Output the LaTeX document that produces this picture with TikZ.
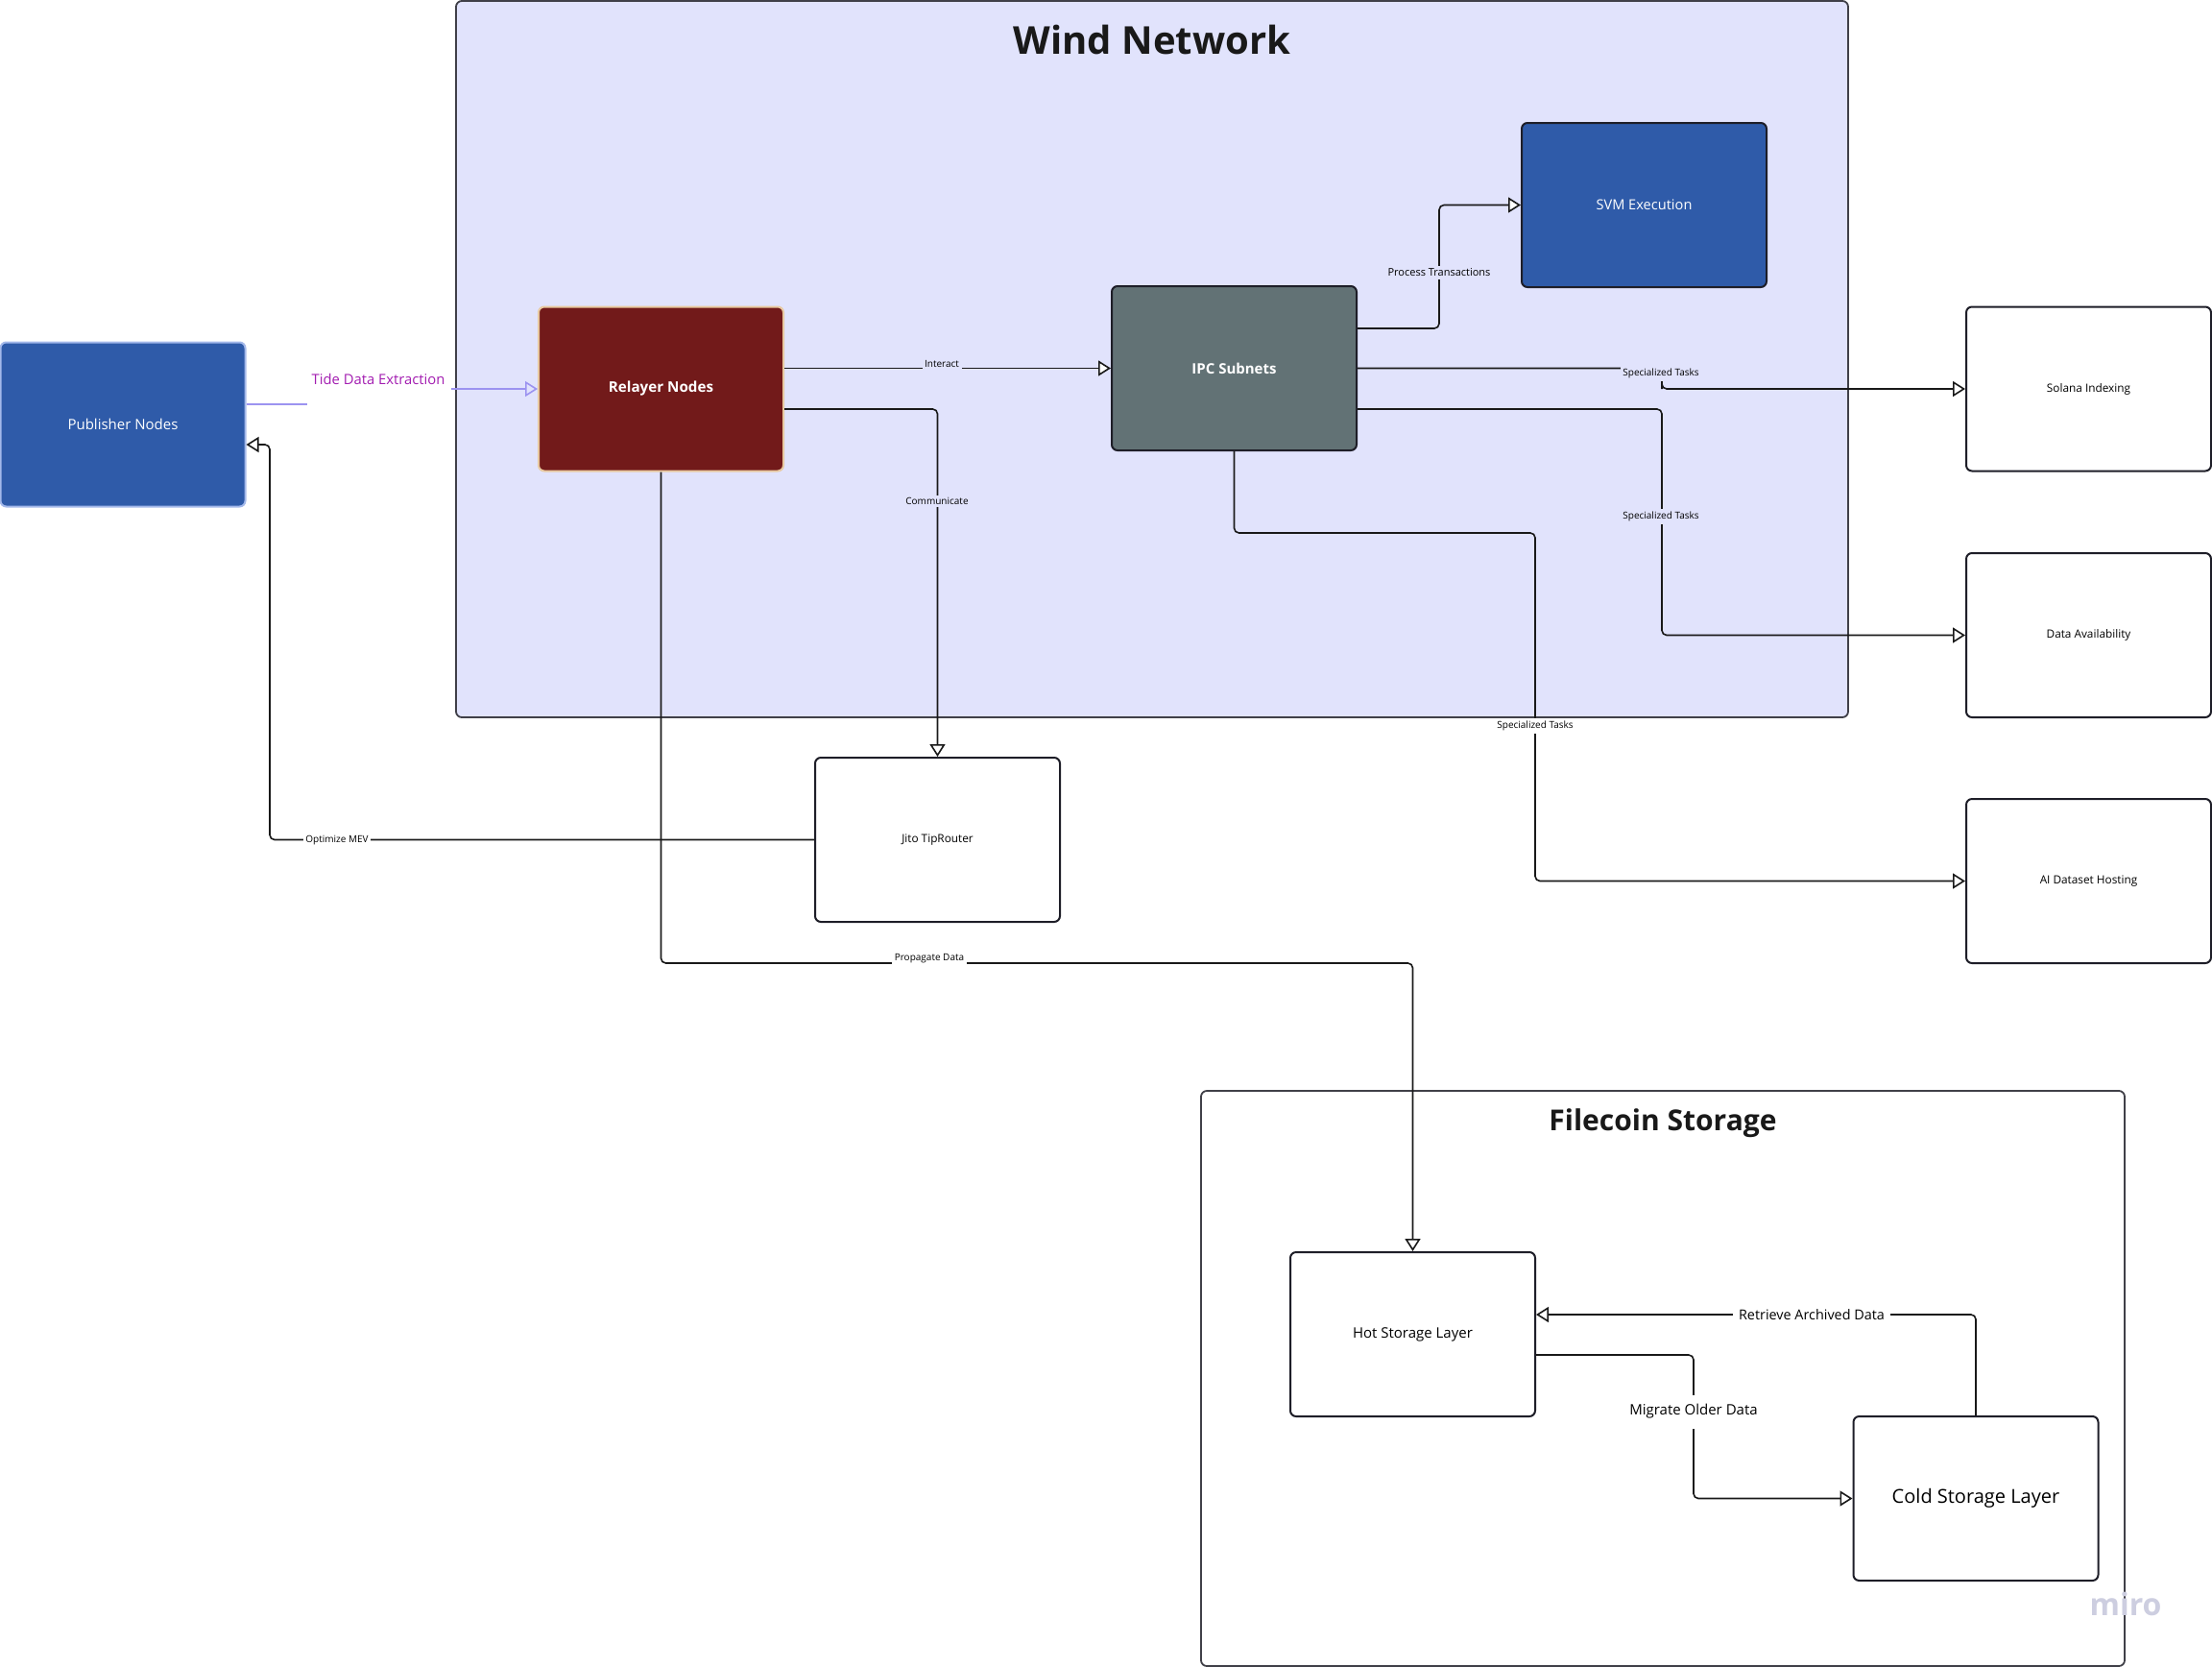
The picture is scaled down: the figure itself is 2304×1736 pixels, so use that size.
\documentclass[tikz,border=0pt]{standalone}
\usepackage{fontspec}
\setmainfont{Open Sans}
\usetikzlibrary{arrows.meta}
\definecolor{wnbg}{HTML}{E1E3FC}
\definecolor{pubblue}{HTML}{2F5BA9}
\definecolor{pubedge}{HTML}{A3B8EA}
\definecolor{relred}{HTML}{721A1A}
\definecolor{reledge}{HTML}{E8C9A0}
\definecolor{ipcgray}{HTML}{627275}
\definecolor{edgedark}{HTML}{1E1E28}
\definecolor{tideline}{HTML}{9C93F0}
\definecolor{tidetext}{HTML}{A21CB0}
\definecolor{mirogray}{HTML}{CDCEE0}
\newcommand\fsz[1]{\fontsize{#1}{#1}\selectfont}
\begin{document}
\begin{tikzpicture}[x=0.5pt,y=-0.5pt,
  card/.style={draw=edgedark, line width=1pt, rounded corners=3pt,
    minimum width=127.5pt, minimum height=85.5pt, inner sep=0pt, align=center},
  wcard/.style={card, fill=white, font=\fsz{5.9pt}},
  frame/.style={draw=edgedark!85, line width=0.9pt, rounded corners=3pt, inner sep=0pt},
  conn/.style={draw=black!90, line width=0.8pt, rounded corners=2.5pt,
    -{Triangle[width=8pt,length=6.5pt,fill=white]}},
  lbl/.style={font=\fsz{5pt}, inner sep=1.3pt, fill=white},
  wlbl/.style={lbl, fill=wnbg},
]
\useasboundingbox (0,0) rectangle (2304,1736);

% frames
\node[frame, fill=wnbg, minimum width=725pt, minimum height=373pt] (wind) at (1200,374) {};
\node[font=\bfseries\fsz{20pt}, text=black!90] (windtitle) at (1200,41) {Wind Network};
\node[frame, fill=white, minimum width=481pt, minimum height=299.5pt] (fil) at (1732,1435.5) {};
\node[font=\bfseries\fsz{15pt}, text=black!90] (filtitle) at (1732,1170) {Filecoin Storage};

% nodes
\node[card, fill=pubblue, draw=pubedge, text=white, font=\fsz{7.5pt}] (pub) at (128,442) {Publisher Nodes};
\node[card, fill=relred, draw=reledge, text=white, font=\bfseries\fsz{7.6pt}] (rel) at (688.5,405) {Relayer Nodes};
\node[card, fill=ipcgray, text=white, font=\bfseries\fsz{7.5pt}] (ipc) at (1285.5,383.5) {IPC Subnets};
\node[card, fill=pubblue, text=white, font=\fsz{7.3pt}] (svm) at (1712.5,213.5) {SVM Execution};
\node[wcard] (sol) at (2175.5,405) {Solana Indexing};
\node[wcard] (da) at (2175.5,661.5) {Data Availability};
\node[wcard] (ai) at (2175.5,917.5) {AI Dataset Hosting};
\node[wcard] (jito) at (976.5,874.5) {Jito TipRouter};
\node[card, fill=white, font=\fsz{7.5pt}] (hot) at (1471.5,1389.5) {Hot Storage Layer};
\node[card, fill=white, font=\fsz{10pt}] (cold) at (2058,1560.5) {Cold Storage Layer};

% connectors
\coordinate (tidea) at (320,421);
\coordinate (tideb) at (470,405);
\draw[draw=tideline, line width=0.8pt] (pub.east |- tidea) -- (tidea);
\draw[draw=tideline, line width=0.8pt, -{Triangle[open,width=8pt,length=6.5pt]}] (tideb) -- (rel.west);
\node[font=\fsz{7.4pt}, text=tidetext] (tidelbl) at (394,395) {Tide Data Extraction};

\draw[conn] (rel.east |- ipc.west) -- (ipc.west);
\draw[conn] (rel.east |- 0,426) -| (jito.north);
\draw[conn] (rel.south) |- (1471.5,1003) -- (hot.north);
\draw[conn] (jito.west) -| (281,463) -- (pub.east |- 0,463);
\draw[conn] (ipc.east |- 0,342) -| (1499,300) |- (svm.west);
\draw[conn] (ipc.east) -| (1731,400) |- (sol.west);
\draw[conn] (ipc.east |- 0,426) -| (1731,600) |- (da.west);
\draw[conn] (ipc.south) |- (1599,555) -- (1599,700) |- (ai.west);
\draw[conn] (cold.north) |- (hot.east |- 0,1369);
\draw[conn] (hot.east |- 0,1411) -| (1764,1500) |- (cold.west);

% labels
\node[wlbl] (l1) at (981,379) {Interact};
\node[wlbl] (l2) at (976,522) {Communicate};
\node[wlbl, font=\fsz{5.5pt}] (l3) at (1499,284) {Process Transactions};
\node[wlbl] (l4) at (1730,389) {Specialized Tasks};
\node[wlbl] (l5) at (1730,538) {Specialized Tasks};
\node[lbl] (l6) at (1599,756) {Specialized Tasks};
\node[lbl] (l7) at (968,998) {Propagate Data};
\node[lbl] (l8) at (351,875) {Optimize MEV};
\node[lbl, font=\fsz{7.2pt}, inner xsep=3pt] (l9) at (1887,1369) {Retrieve Archived Data};
\node[lbl, font=\fsz{7.5pt}, inner ysep=5pt] (l10) at (1764,1470) {Migrate Older Data};

\node[font=\bfseries\fsz{16pt}, text=mirogray] (miro) at (2214,1670) {miro};
\end{tikzpicture}
\end{document}
